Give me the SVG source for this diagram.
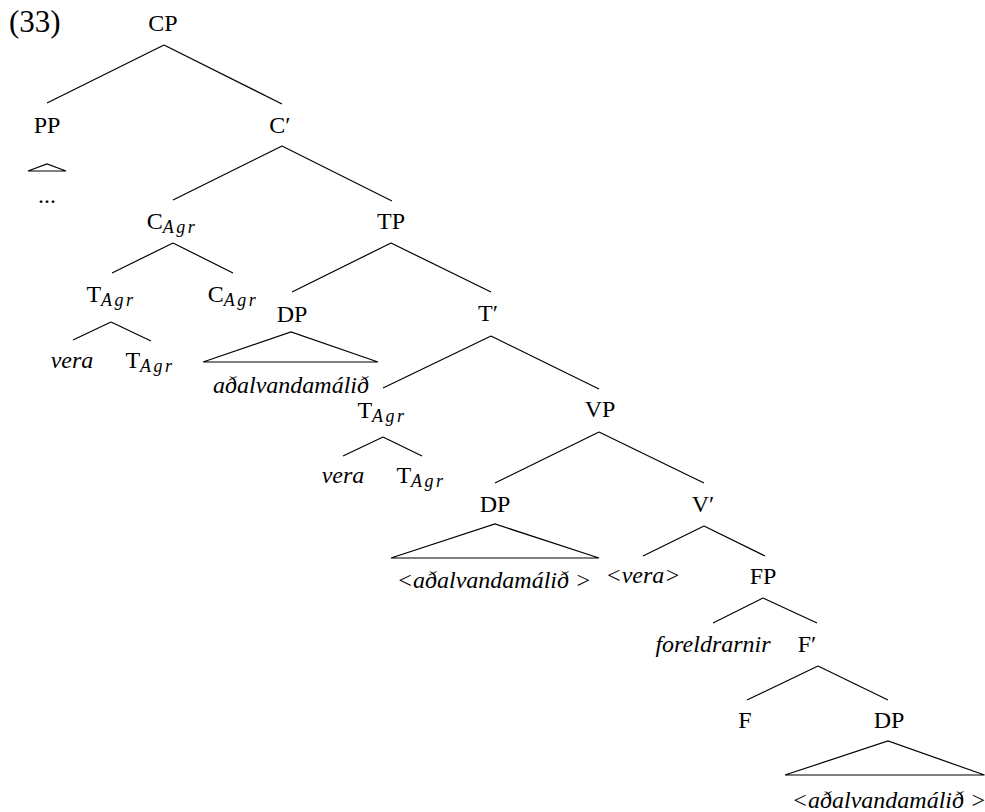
<svg xmlns="http://www.w3.org/2000/svg" width="985" height="812" viewBox="0 0 985 812">
<style>
text { font-family: "Liberation Serif", "Times New Roman", serif; font-size: 24px; fill: #000; text-anchor: middle; }
.it { font-style: italic; }
.sub { font-style: italic; font-size: 18px; letter-spacing: 2.5px; }
.num { font-size: 31px; text-anchor: start; }
line, polygon { stroke: #000; stroke-width: 1.2; fill: none; }
</style>
<rect width="985" height="812" fill="#fff"/>
<text class="num" x="9" y="32">(33)</text>
<g id="connectors">
<line x1="164" y1="45" x2="47" y2="103"/>
<line x1="164" y1="45" x2="282" y2="104"/>
<line x1="282" y1="146" x2="173" y2="200"/>
<line x1="282" y1="146" x2="392" y2="201"/>
<line x1="173" y1="243" x2="112" y2="273"/>
<line x1="173" y1="243" x2="233" y2="273"/>
<line x1="391" y1="243" x2="292" y2="292"/>
<line x1="391" y1="243" x2="491" y2="292"/>
<line x1="111" y1="322" x2="73" y2="340"/>
<line x1="111" y1="322" x2="151" y2="341"/>
<line x1="491" y1="336" x2="383" y2="388"/>
<line x1="491" y1="336" x2="599" y2="389"/>
<line x1="383" y1="437" x2="343" y2="456"/>
<line x1="383" y1="437" x2="422" y2="456"/>
<line x1="599" y1="432" x2="495" y2="483"/>
<line x1="599" y1="432" x2="704" y2="483"/>
<line x1="704" y1="526" x2="643" y2="556"/>
<line x1="704" y1="526" x2="765" y2="556"/>
<line x1="763" y1="598" x2="713" y2="623"/>
<line x1="763" y1="598" x2="817" y2="623"/>
<line x1="818" y1="666" x2="747" y2="700"/>
<line x1="818" y1="666" x2="888" y2="700"/>
</g>
<g id="CP"><text x="163" y="31">CP</text></g>
<g id="PP"><text x="47" y="133">PP</text>
<polygon points="28,171 47,164 66,171"/>
<text x="47" y="203">...</text></g>
<g id="Cbar"><text x="280" y="133">C′</text></g>
<g id="CAgr1"><text x="172" y="229">C<tspan class="sub" dy="4">Agr</tspan></text></g>
<g id="TP"><text x="391" y="229">TP</text></g>
<g id="TAgr1"><text x="111" y="302">T<tspan class="sub" dy="4">Agr</tspan></text></g>
<g id="CAgr2"><text x="233" y="302">C<tspan class="sub" dy="4">Agr</tspan></text></g>
<g id="vera1"><text class="it" x="72" y="368">vera</text></g>
<g id="TAgr2"><text x="150" y="368">T<tspan class="sub" dy="4">Agr</tspan></text></g>
<g id="DP1"><text x="292" y="322">DP</text>
<polygon points="203,362 291,332 378,362"/>
<text class="it" x="291" y="393">aðalvandamálið</text></g>
<g id="Tbar"><text x="488" y="321">T′</text></g>
<g id="TAgr3"><text x="382" y="418">T<tspan class="sub" dy="4">Agr</tspan></text></g>
<g id="vera2"><text class="it" x="343" y="483">vera</text></g>
<g id="TAgr4"><text x="421" y="483">T<tspan class="sub" dy="4">Agr</tspan></text></g>
<g id="VP"><text x="600" y="417">VP</text></g>
<g id="DP2"><text x="495" y="512">DP</text>
<polygon points="391,558 495,524 599,558"/>
<text class="it" x="494" y="588">&lt;aðalvandamálið &gt;</text></g>
<g id="Vbar"><text x="703" y="512">V′</text></g>
<g id="vera3"><text class="it" x="643" y="583">&lt;vera&gt;</text></g>
<g id="FP"><text x="763" y="584">FP</text></g>
<g id="foreldrarnir"><text class="it" x="713" y="652">foreldrarnir</text></g>
<g id="Fbar"><text x="807" y="652">F′</text></g>
<g id="F"><text x="745" y="728">F</text></g>
<g id="DP3"><text x="889" y="728">DP</text>
<polygon points="785,775 888,741 984.5,775"/>
<text class="it" x="889" y="808">&lt;aðalvandamálið &gt;</text></g>
</svg>
